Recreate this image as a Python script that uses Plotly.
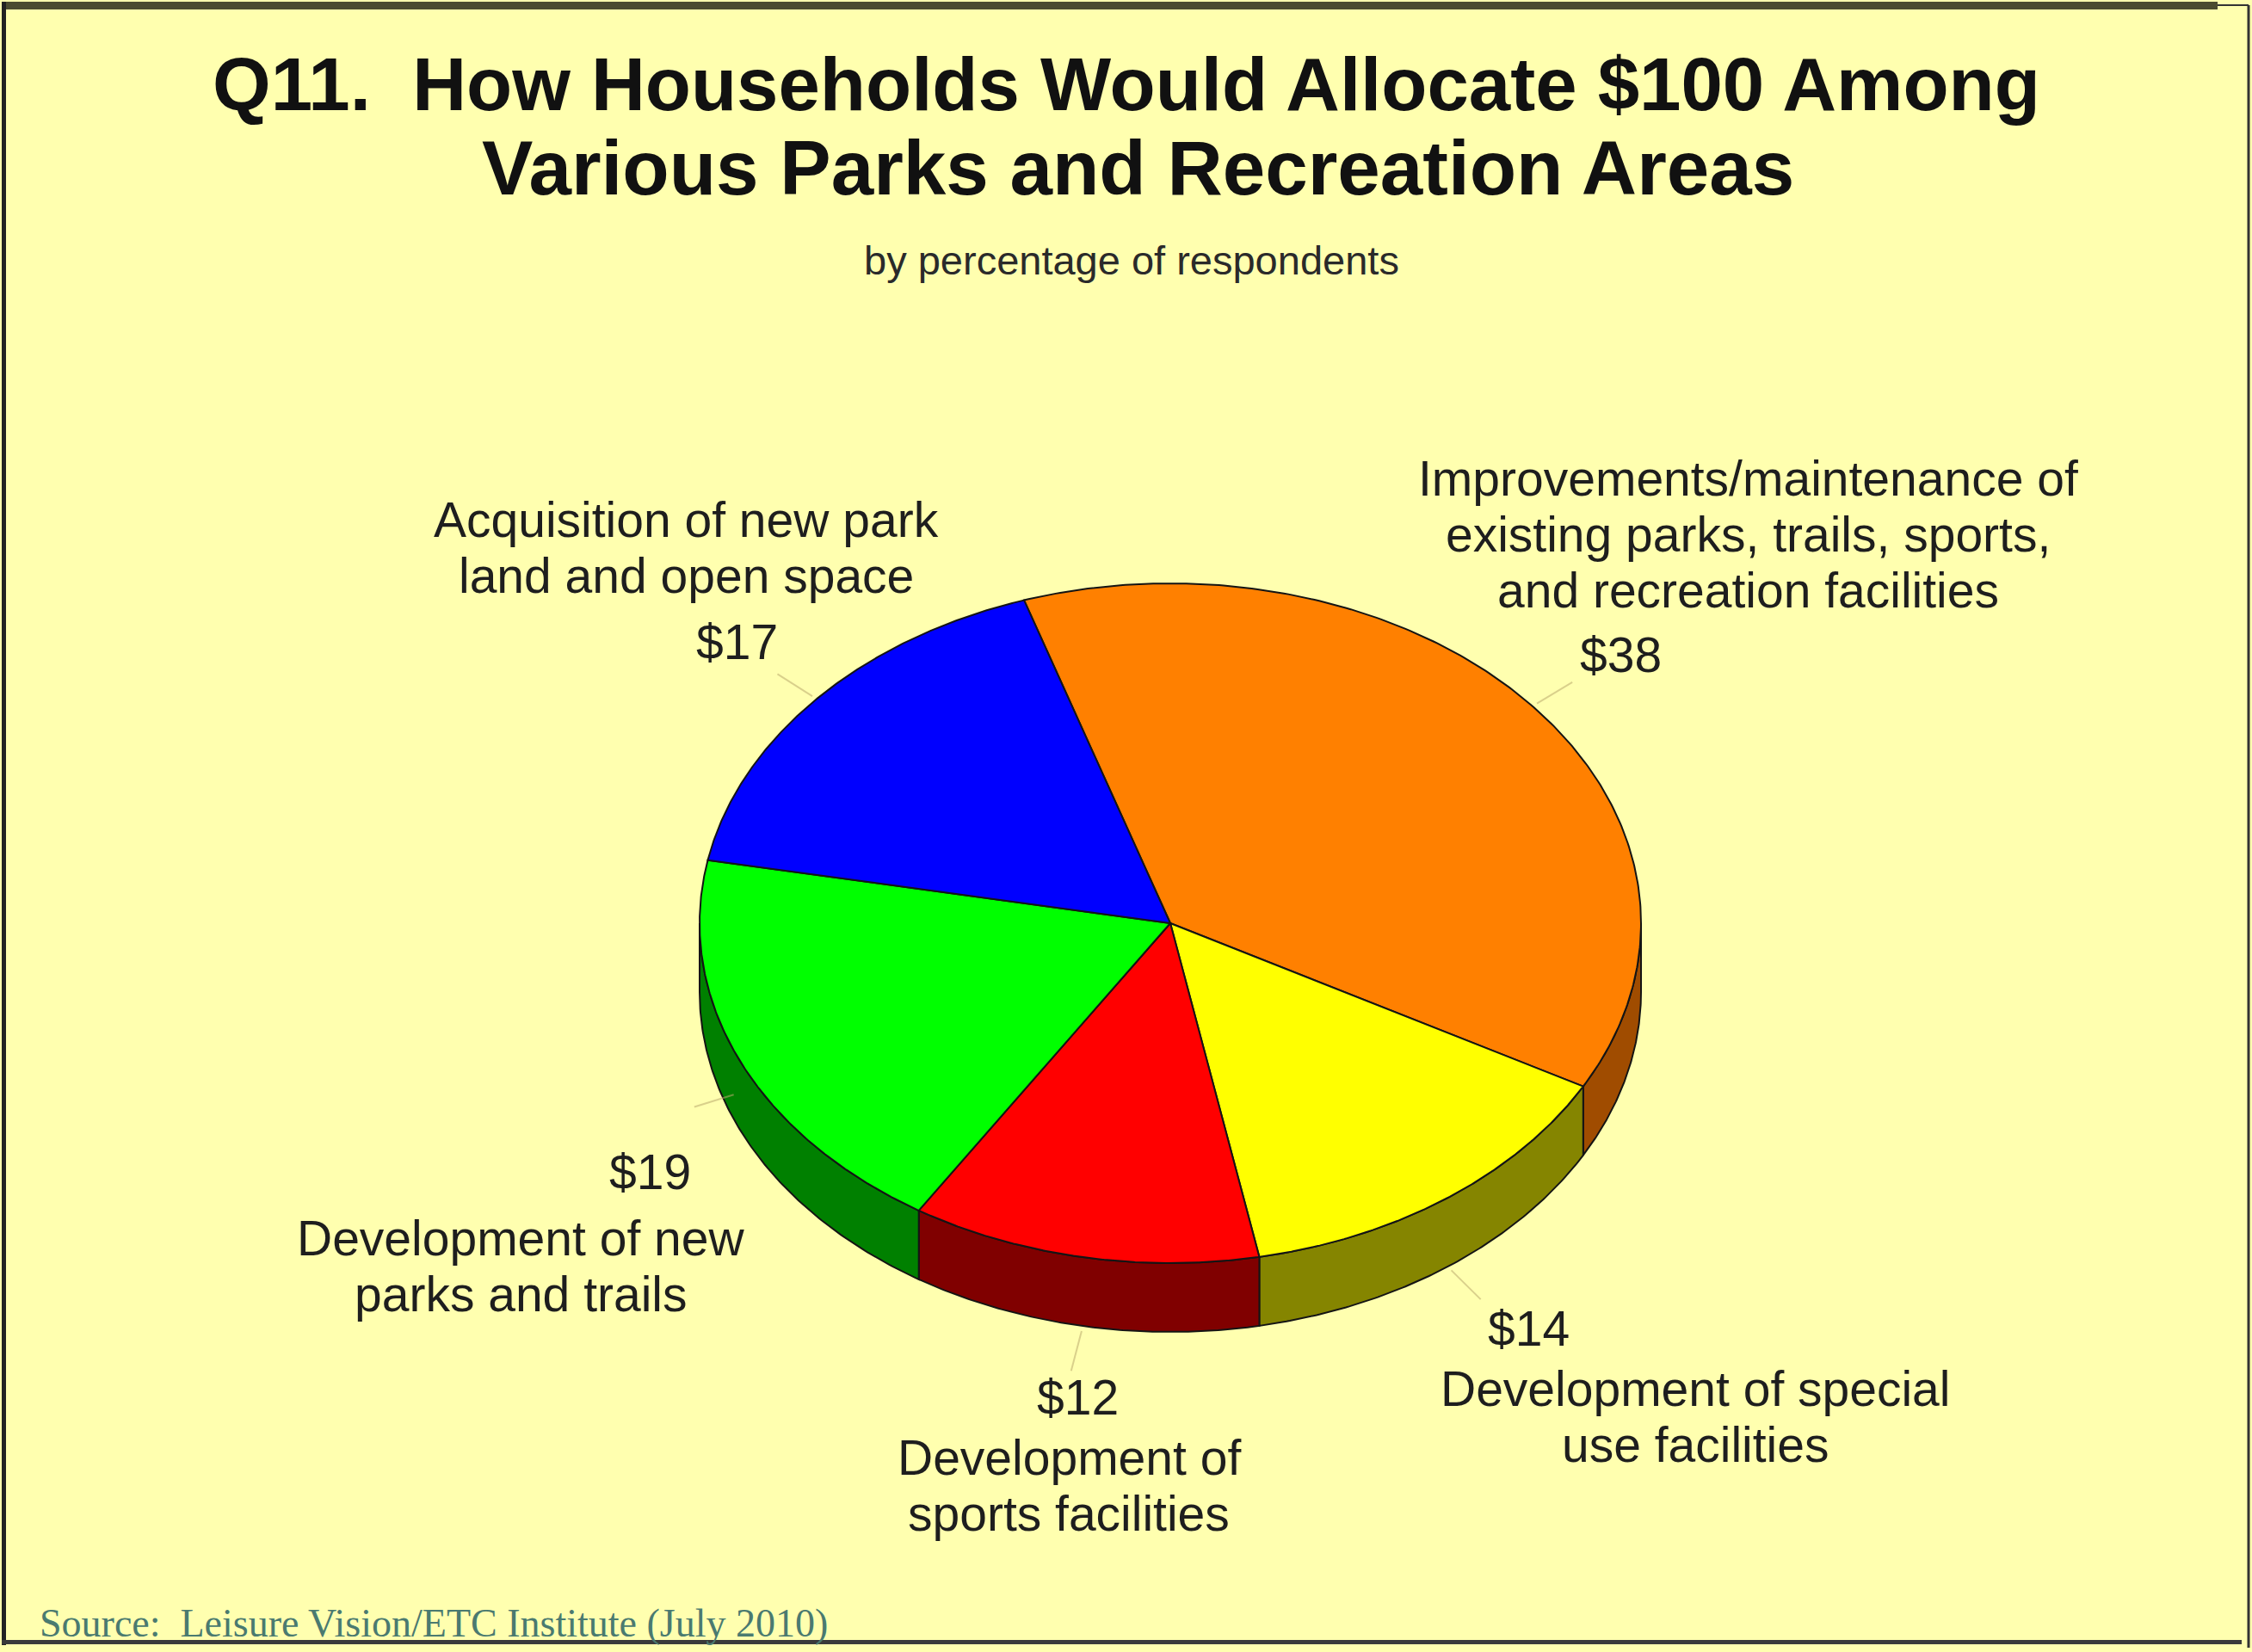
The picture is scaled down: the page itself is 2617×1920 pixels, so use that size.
import numpy as np
import plotly.graph_objects as go

# ---- data -------------------------------------------------------------
categories = [
    "Improvements/maintenance of<br>existing parks, trails, sports,<br>and recreation facilities",
    "Development of special<br>use facilities",
    "Development of<br>sports facilities",
    "Development of new<br>parks and trails",
    "Acquisition of new park<br>land and open space",
]
values = [38, 14, 12, 19, 17]
top_colors = ["#FF8000", "#FFFF00", "#FF0000", "#00FF00", "#0000FF"]
side_colors = ["#A04C00", "#858500", "#800000", "#008000", "#000080"]

title_lines = ["Q11.  How Households Would Allocate $100 Among",
               "Various Parks and Recreation Areas"]
subtitle = "by percentage of respondents"
source = "Source:  Leisure Vision/ETC Institute (July 2010)"

# ---- pie geometry (pixel space, y grows downward) ---------------------
W, H = 2617, 1920
CX, CY = 1360, 1073          # centre of the top face
RX, RY = 547, 395            # tilted ellipse radii
DEPTH = 80                   # thickness of the disc
START = -18.1                # first slice begins here (deg, clockwise from 12 o'clock)

def edge(theta_deg, dy=0.0):
    t = np.radians(theta_deg)
    return CX + RX * np.sin(t), CY - RY * np.cos(t) + dy

total = float(sum(values))
bounds = []
a = START
for v in values:
    b = a + 360.0 * v / total
    bounds.append((a, b))
    a = b

fig = go.Figure()
OUTLINE = dict(color="#141414", width=2)

# side walls: only the front half (90..270 deg) is visible
for (a1, a2), col in zip(bounds, side_colors):
    for shift in (0, 360, -360):
        lo, hi = max(a1 + shift, 90), min(a2 + shift, 270)
        if hi <= lo:
            continue
        th = np.linspace(lo, hi, 120)
        xt, yt = edge(th)
        xb, yb = edge(th[::-1], DEPTH)
        fig.add_trace(go.Scatter(
            x=np.concatenate([xt, xb, xt[:1]]),
            y=np.concatenate([yt, yb, yt[:1]]),
            mode="lines", fill="toself", fillcolor=col, line=OUTLINE,
            hoverinfo="skip", showlegend=False))

# top faces
for (a1, a2), col, v in zip(bounds, top_colors, values):
    th = np.linspace(a1, a2, 240)
    xs, ys = edge(th)
    fig.add_trace(go.Scatter(
        x=np.concatenate([[CX], xs, [CX]]),
        y=np.concatenate([[CY], ys, [CY]]),
        mode="lines", fill="toself", fillcolor=col, line=OUTLINE,
        hoverinfo="skip", showlegend=False, name=f"${v}"))

# faint leader lines from each slice's mid-angle
for (a1, a2) in bounds:
    mid = (a1 + a2) / 2.0
    c = np.cos(np.radians(mid))
    off = DEPTH * min(1.0, max(0.0, -c * 1.25))
    x0, y0 = edge(mid, off)
    dx, dy = RX * np.sin(np.radians(mid)), -RY * c
    n = np.hypot(dx, dy)
    x0, y0 = x0 + 6 * dx / n, y0 + 6 * dy / n
    x1, y1 = x0 + 48 * dx / n, y0 + 48 * dy / n
    fig.add_trace(go.Scatter(x=[x0, x1], y=[y0, y1], mode="lines",
                             line=dict(color="rgba(185,170,110,0.55)", width=2),
                             hoverinfo="skip", showlegend=False))

# ---- labels -----------------------------------------------------------
LBL_FONT = dict(family="Liberation Sans, Arial, sans-serif", size=57, color="#1e1e1e")
LINE = 65
# (x of value, y of value, x of text block, y of first text line)
label_pos = [
    (1883, 761, 2031, 556),
    (1776, 1544, 1970, 1614),
    (1252, 1624, 1242, 1694),
    (755, 1362, 605, 1439),
    (856, 746, 797, 604),
]
ann = []
for cat, v, (vx, vy, tx, ty) in zip(categories, values, label_pos):
    ann.append(dict(x=vx, y=vy, text=f"${v}", showarrow=False,
                    xanchor="center", yanchor="middle", font=LBL_FONT))
    for i, line in enumerate(cat.split("<br>")):
        ann.append(dict(x=tx, y=ty + i * LINE, text=line, showarrow=False,
                        xanchor="center", yanchor="middle", font=LBL_FONT))

for i, line in enumerate(title_lines):
    ann.append(dict(x=[1309, 1322][i], y=97 + i * 98, text=f"<b>{line}</b>",
                    showarrow=False, xanchor="center", yanchor="middle",
                    font=dict(family="Liberation Sans, Arial, sans-serif",
                              size=[87, 89][i], color="#111111")))
ann.append(dict(x=1315, y=302, text=subtitle, showarrow=False,
                xanchor="center", yanchor="middle",
                font=dict(family="Liberation Sans, Arial, sans-serif", size=47,
                          color="#2a2a2a")))
ann.append(dict(x=44, y=1886, text=source, showarrow=False,
                xanchor="left", yanchor="middle",
                font=dict(family="Liberation Serif, Times New Roman, serif", size=46,
                          color="#4A7A70")))

# ---- frame ------------------------------------------------------------
shapes = [
    dict(type="rect", xref="x", yref="y", x0=4, x1=2577, y0=2, y1=11,
         fillcolor="#4B4B30", line=dict(width=0), layer="above"),
    dict(type="line", xref="x", yref="y", x0=2577, x1=2613, y0=6, y1=6,
         line=dict(color="#333333", width=2)),
    dict(type="rect", xref="x", yref="y", x0=2, x1=7, y0=2, y1=1912,
         fillcolor="#222222", line=dict(width=0)),
    dict(type="rect", xref="x", yref="y", x0=2, x1=2605, y0=1906, y1=1911,
         fillcolor="#3a3a3a", line=dict(width=0)),
    dict(type="line", xref="x", yref="y", x0=2613, x1=2613, y0=6, y1=1915,
         line=dict(color="#333333", width=3)),
]

fig.update_layout(
    width=W, height=H,
    margin=dict(l=0, r=0, t=0, b=0),
    paper_bgcolor="#FFFFAF", plot_bgcolor="#FFFFAF",
    xaxis=dict(range=[0, W], visible=False, fixedrange=True),
    yaxis=dict(range=[H, 0], visible=False, fixedrange=True),
    annotations=ann, shapes=shapes, showlegend=False,
)

fig.write_html("out.html")
